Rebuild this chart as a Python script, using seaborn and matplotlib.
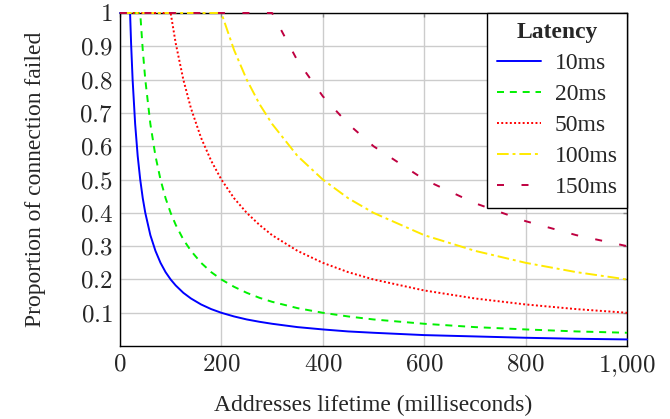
import matplotlib
matplotlib.use("Agg")
import matplotlib.pyplot as plt
import numpy as np
import pandas as pd
import seaborn as sns

# lifetime samples (ms) and read-off proportions per latency
lifetime = [0, 20, 22, 25, 30, 35, 40, 45, 50, 60, 70, 80, 90, 100, 110, 125, 140, 160, 180,
            200, 225, 250, 275, 300, 350, 400, 450, 500, 600, 700, 800, 900, 1000]
lat_10 = [1, 1, 0.909, 0.8, 0.667, 0.571, 0.5, 0.444, 0.4, 0.333, 0.286, 0.25, 0.222, 0.2,
          0.182, 0.16, 0.143, 0.125, 0.111, 0.1, 0.089, 0.08, 0.073, 0.067, 0.057, 0.05,
          0.044, 0.04, 0.033, 0.029, 0.025, 0.022, 0.02]
lat_20 = [1, 1, 1, 1, 1, 1, 1, 0.889, 0.8, 0.667, 0.571, 0.5, 0.444, 0.4, 0.364, 0.32,
          0.286, 0.25, 0.222, 0.2, 0.178, 0.16, 0.145, 0.133, 0.114, 0.1, 0.089, 0.08,
          0.067, 0.057, 0.05, 0.044, 0.04]
lat_50 = [1, 1, 1, 1, 1, 1, 1, 1, 1, 1, 1, 1, 1, 1, 0.909, 0.8, 0.714, 0.625, 0.556, 0.5,
          0.444, 0.4, 0.364, 0.333, 0.286, 0.25, 0.222, 0.2, 0.167, 0.143, 0.125, 0.111, 0.1]
lat_100 = [1, 1, 1, 1, 1, 1, 1, 1, 1, 1, 1, 1, 1, 1, 1, 1, 1, 1, 1, 1, 0.889, 0.8, 0.727,
           0.667, 0.571, 0.5, 0.444, 0.4, 0.333, 0.286, 0.25, 0.222, 0.2]
lat_150 = [1, 1, 1, 1, 1, 1, 1, 1, 1, 1, 1, 1, 1, 1, 1, 1, 1, 1, 1, 1, 1, 1, 1, 1, 0.857,
           0.75, 0.667, 0.6, 0.5, 0.429, 0.375, 0.333, 0.3]
labels = ["10ms", "20ms", "50ms", "100ms", "150ms"]

x_ticks = [0, 200, 400, 600, 800, 1000]
x_ticklabels = ["0", "200", "400", "600", "800", "1{,}000"]
y_ticks = [0.1, 0.2, 0.3, 0.4, 0.5, 0.6, 0.7, 0.8, 0.9, 1]
y_ticklabels = ["0.1", "0.2", "0.3", "0.4", "0.5", "0.6", "0.7", "0.8", "0.9", "1"]

colors = {"10ms": "#0000ff", "20ms": "#00f000", "50ms": "#ff0000",
          "100ms": "#ffea00", "150ms": "#bf0040"}
dashes = {"10ms": "", "20ms": (3.6, 3.0), "50ms": (1, 1.2),
          "100ms": (6, 2, 1.5, 2), "150ms": (3.6, 9)}
lw = 1.4

df = pd.DataFrame({
    "lifetime": lifetime * 5,
    "prop": lat_10 + lat_20 + lat_50 + lat_100 + lat_150,
    "latency": sum([[l] * len(lifetime) for l in labels], []),
})

sns.set_style("white")
plt.rcParams["font.family"] = ["Liberation Serif", "DejaVu Serif"]
plt.rcParams["mathtext.fontset"] = "cm"

fig = plt.figure(figsize=(6.7, 4.19), dpi=100)
ax = fig.add_axes([0.179, 0.174, 0.757, 0.795])

sns.lineplot(data=df, x="lifetime", y="prop", hue="latency", style="latency",
             palette=colors, dashes=dashes, hue_order=labels, style_order=labels,
             linewidth=lw, ax=ax, legend=False)
for line in ax.get_lines():
    line.set_clip_on(False)
    line.set_zorder(3)

ax.set_xlim(0, 1000)
ax.set_ylim(0, 1)
ax.set_xticks(x_ticks)
ax.set_xticklabels(["$" + t + "$" for t in x_ticklabels], fontsize=18)
ax.set_yticks(y_ticks)
ax.set_yticklabels(["$" + t + "$" for t in y_ticklabels], fontsize=18)
ax.tick_params(direction="in", length=3, width=1, color="#888888", pad=5,
               top=True, right=True)
ax.grid(True, color="#cccccc", linewidth=1.0)
ax.set_axisbelow(True)
for s in ax.spines.values():
    s.set_color("black")
    s.set_linewidth(1.0)
    s.set_zorder(2.5)

ax.set_xlabel("Addresses lifetime (milliseconds)", fontsize=17, labelpad=12)
ax.set_ylabel("Proportion of connection failed", fontsize=17, labelpad=24)

handles = [plt.Line2D([], [], color=colors[l], linewidth=lw,
                      linestyle=(0, dashes[l]) if dashes[l] else "-") for l in labels]
leg = ax.legend(handles, labels, loc="upper right", borderaxespad=0, fontsize=17,
                title="Latency", title_fontproperties={"weight": "bold", "size": 17},
                frameon=True, fancybox=False, framealpha=1, edgecolor="black",
                handlelength=1.85, handletextpad=0.6, labelspacing=0.4, borderpad=0.4)
leg.get_frame().set_linewidth(1.0)
leg.set_zorder(5)

fig.savefig("out.png", dpi=100)
